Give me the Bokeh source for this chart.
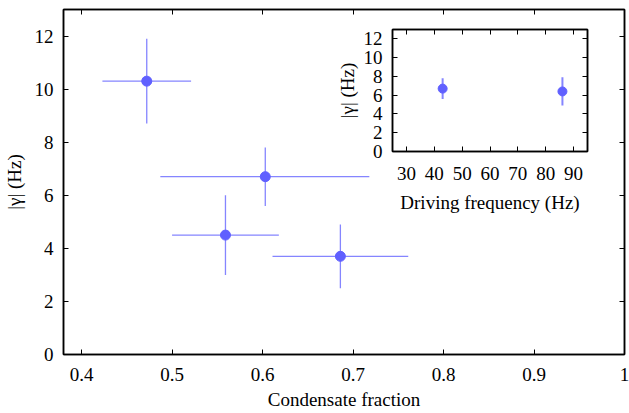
from bokeh.plotting import figure
from bokeh.models import ColumnDataSource, LinearAxis, FixedTicker, Range1d, CustomJSTickFormatter
from bokeh.layouts import column
from bokeh.embed import file_html
from bokeh.resources import INLINE

# Main data
cond_frac = [0.472, 0.603, 0.559, 0.686]
cond_lo = [0.423, 0.487, 0.500, 0.611]
cond_hi = [0.521, 0.718, 0.618, 0.761]
gamma = [10.3, 6.7, 4.5, 3.7]
gamma_lo = [8.7, 5.6, 3.0, 2.5]
gamma_hi = [11.9, 7.8, 6.0, 4.9]

# Inset data
drive_freq = [43.0, 86.0]
gamma_in = [6.7, 6.4]
gamma_in_lo = [5.6, 4.9]
gamma_in_hi = [7.8, 7.9]

main_xticks = [0.4, 0.5, 0.6, 0.7, 0.8, 0.9, 1.0]
main_yticks = [0, 2, 4, 6, 8, 10, 12]
inset_xticks = [30, 40, 50, 60, 70, 80, 90]
inset_yticks = [0, 2, 4, 6, 8, 10, 12]

FONT = "Liberation Serif"
PT = "#6060ff"
ERR = "#8585ff"
FS = "19px"


def mirror_axis(ticks):
    return LinearAxis(ticker=FixedTicker(ticks=ticks),
                      formatter=CustomJSTickFormatter(code="return ''"),
                      major_label_standoff=0, major_tick_in=5, major_tick_out=0,
                      major_label_text_font_size="1px",
                      minor_tick_line_color=None, axis_line_color="black", axis_line_width=1.5)


def style_axes(p, xt, yt):
    for ax in p.below + p.left:
        ax.major_tick_in = 5
        ax.major_tick_out = 0
        ax.minor_tick_line_color = None
        ax.axis_line_color = "black"
        ax.axis_line_width = 1.5
        ax.major_tick_line_color = "black"
        ax.major_label_text_font = FONT
        ax.major_label_text_font_size = FS
        ax.major_label_text_color = "black"
        ax.axis_label_text_font = FONT
        ax.axis_label_text_font_style = "normal"
        ax.axis_label_text_font_size = FS
        ax.axis_label_text_color = "black"
    p.below[0].ticker = FixedTicker(ticks=xt)
    p.left[0].ticker = FixedTicker(ticks=yt)
    p.add_layout(mirror_axis(xt), "above")
    p.add_layout(mirror_axis(yt), "right")
    p.xgrid.grid_line_color = None
    p.ygrid.grid_line_color = None
    p.outline_line_color = "black"
    p.outline_line_width = 1.5
    p.frame_align = False


src = ColumnDataSource(dict(x=cond_frac, xl=cond_lo, xh=cond_hi, y=gamma, yl=gamma_lo, yh=gamma_hi))
p = figure(width=629, height=413, output_backend="svg", toolbar_location=None,
           x_range=Range1d(0.38, 1.0), y_range=Range1d(0, 13),
           min_border_left=63, min_border_right=5, min_border_top=9, min_border_bottom=59)
p.segment(x0="xl", x1="xh", y0="y", y1="y", source=src, line_color=ERR, line_width=1.3)
p.segment(x0="x", x1="x", y0="yl", y1="yh", source=src, line_color=ERR, line_width=1.3)
p.scatter(x="x", y="y", source=src, size=10, fill_color=PT, line_color=PT)
p.xaxis.axis_label = "Condensate fraction"
p.yaxis.axis_label = "|γ| (Hz)"
style_axes(p, main_xticks, main_yticks)
p.below[0].major_label_standoff = 13
p.below[0].axis_label_standoff = 5
p.left[0].major_label_standoff = 10
p.left[0].axis_label_standoff = 7

src2 = ColumnDataSource(dict(x=drive_freq, y=gamma_in, yl=gamma_in_lo, yh=gamma_in_hi))
q = figure(width=270, height=215, output_backend="svg", toolbar_location=None,
           x_range=Range1d(25, 95), y_range=Range1d(0, 13),
           min_border_left=70, min_border_right=5, min_border_top=9, min_border_bottom=84)
q.segment(x0="x", x1="x", y0="yl", y1="yh", source=src2, line_color=ERR, line_width=2)
q.scatter(x="x", y="y", source=src2, size=9, fill_color=PT, line_color=PT)
q.xaxis.axis_label = "Driving frequency (Hz)"
q.yaxis.axis_label = "|γ| (Hz)"
style_axes(q, inset_xticks, inset_yticks)
q.below[0].major_label_standoff = 15
q.below[0].axis_label_standoff = 9
q.left[0].major_label_standoff = 10
q.left[0].axis_label_standoff = 3
q.border_fill_alpha = 0
q.styles = {"position": "absolute", "left": "322px", "top": "20px"}

layout = column(p, q)
layout.styles = {"position": "relative"}

open("out.html", "w").write(file_html(layout, INLINE))
